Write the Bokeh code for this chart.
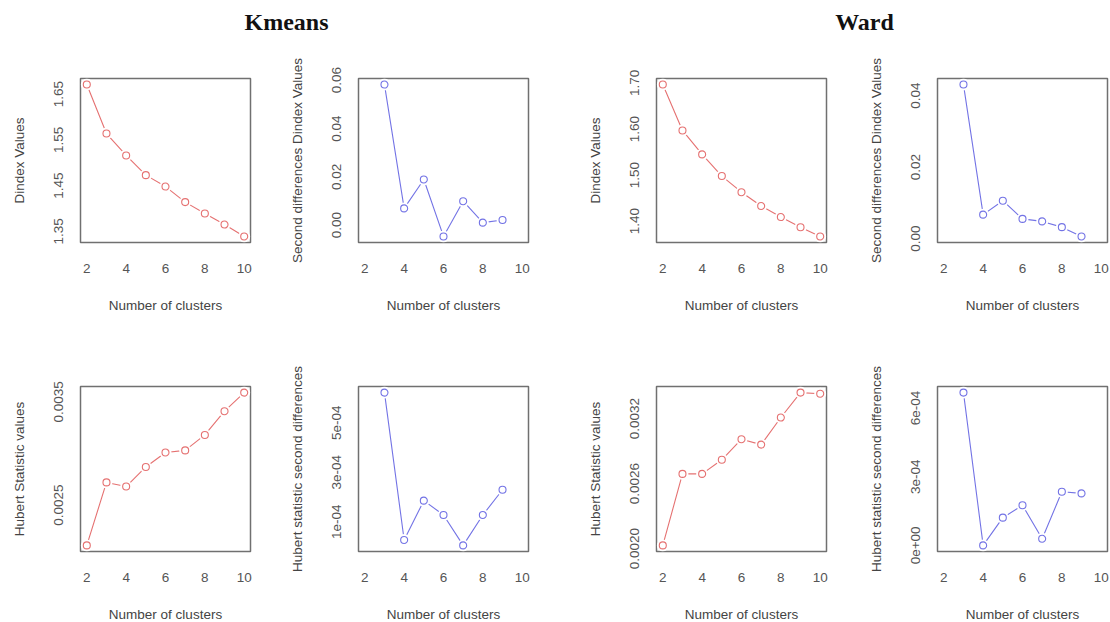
from bokeh.plotting import figure
from bokeh.layouts import column, row
from bokeh.models import Range1d, FixedTicker, CustomJSTickFormatter, Label
from bokeh.embed import file_html
from bokeh.resources import INLINE
from bokeh.core.properties import value

# ---------------- data ----------------
clusters = [2, 3, 4, 5, 6, 7, 8, 9, 10]
diff_clusters = [3, 4, 5, 6, 7, 8, 9]

kmeans_dindex = [1.671, 1.564, 1.516, 1.473, 1.448, 1.414, 1.389, 1.365, 1.339]
kmeans_dindex_diff = [0.0582, 0.0069, 0.0189, -0.0047, 0.0099, 0.0010, 0.0021]
ward_dindex = [1.6965, 1.597, 1.545, 1.498, 1.463, 1.433, 1.409, 1.387, 1.367]
ward_dindex_diff = [0.0431, 0.0067, 0.0106, 0.0055, 0.0048, 0.0032, 0.0006]

kmeans_hubert = [0.00211, 0.00272, 0.00268, 0.00287, 0.00301, 0.00303, 0.00318, 0.00341, 0.00359]
kmeans_hubert_diff = [6.22e-4, 0.26e-4, 1.85e-4, 1.27e-4, 0.04e-4, 1.27e-4, 2.29e-4]
ward_hubert = [0.00203, 0.00269, 0.00269, 0.00282, 0.00301, 0.00296, 0.00321, 0.00344, 0.00343]
ward_hubert_diff = [6.67e-4, 0.0, 1.21e-4, 1.75e-4, 0.29e-4, 2.34e-4, 2.27e-4]

x_ticks = [2, 4, 6, 8, 10]
ticks_kmeans_dindex = [1.35, 1.45, 1.55, 1.65]
ticks_kmeans_dindex_diff = [0.00, 0.02, 0.04, 0.06]
ticks_ward_dindex = [1.40, 1.50, 1.60, 1.70]
ticks_ward_dindex_diff = [0.00, 0.02, 0.04]
ticks_kmeans_hubert = [0.0025, 0.0035]
ticks_kmeans_hubert_diff = [1e-4, 3e-4, 5e-4]
ticks_ward_hubert = [0.0020, 0.0026, 0.0032]
ticks_ward_hubert_diff = [0.0, 3e-4, 6e-4]

titles = ["Kmeans", "Ward"]
x_label = "Number of clusters"

# ---------------- styling ----------------
RED = "#e05858"
BLUE = "#5a5ae0"
FONT = "Liberation Sans"
TICK_COLOR = "#555555"
LABEL_COLOR = "#444444"
FS = "13.5px"

EXP_CODE = """
const s = tick.toExponential(0);
const parts = s.split('e');
const n = parseInt(parts[1]);
const a = Math.abs(n);
return parts[0] + 'e' + (n < 0 ? '-' : '+') + (a < 10 ? '0' : '') + a;
"""


def expand(vals):
    lo, hi = min(vals), max(vals)
    d = (hi - lo) * 0.04
    return lo - d, hi + d


def panel(xs, ys, color, yticks, fmt, ylabel, left, right, frame_w, top, bottom, frame_h):
    x0, x1 = expand(clusters)
    y0, y1 = expand(ys)
    p = figure(frame_width=frame_w, frame_height=frame_h,
               x_range=Range1d(x0, x1), y_range=Range1d(y0, y1),
               output_backend="svg", toolbar_location=None,
               min_border_left=left, min_border_right=right,
               min_border_top=top, min_border_bottom=bottom)
    p.grid.visible = False
    p.outline_line_color = "#707070"
    p.outline_line_width = 1.5
    p.background_fill_color = "white"
    p.border_fill_color = "white"

    for ax in (p.xaxis[0], p.yaxis[0]):
        ax.axis_line_color = None
        ax.major_tick_line_color = None
        ax.minor_tick_line_color = None
        ax.major_tick_in = 0
        ax.major_tick_out = 0
        ax.major_label_text_font = FONT
        ax.major_label_text_font_size = FS
        ax.major_label_text_color = TICK_COLOR
        ax.axis_label_text_font = FONT
        ax.axis_label_text_font_size = FS
        ax.axis_label_text_font_style = "normal"
        ax.axis_label_text_color = LABEL_COLOR

    p.xaxis.ticker = FixedTicker(ticks=x_ticks)
    p.xaxis.major_label_standoff = 21
    p.xaxis.axis_label = x_label
    p.xaxis.axis_label_standoff = 22

    p.yaxis.ticker = FixedTicker(ticks=yticks)
    if fmt == "exp":
        p.yaxis.formatter = CustomJSTickFormatter(code=EXP_CODE)
    else:
        p.yaxis.formatter = CustomJSTickFormatter(args=dict(d=fmt), code="return tick.toFixed(d);")
    p.yaxis.major_label_orientation = "vertical"
    p.yaxis.major_label_standoff = 17
    p.yaxis.axis_label = ylabel
    p.yaxis.axis_label_standoff = 25

    p.line(xs, ys, line_color=color, line_width=1.1, line_alpha=0.85)
    p.scatter(xs, ys, size=12, marker="circle", fill_color="white", line_color=None)
    p.scatter(xs, ys, size=7, marker="circle", fill_color=None, line_color=color,
              line_width=1.1, line_alpha=0.85)
    return p


# column geometry: (left border, frame width, right border)
cols = [(80, 170, 20), (88, 170, 20), (108, 170, 20), (91, 170, 2)]
row1_geo = (30, 164, 80)
row2_geo = (64, 165, 70)

specs_row1 = [
    (clusters, kmeans_dindex, RED, ticks_kmeans_dindex, 2, "Dindex Values"),
    (diff_clusters, kmeans_dindex_diff, BLUE, ticks_kmeans_dindex_diff, 2, "Second differences Dindex Values"),
    (clusters, ward_dindex, RED, ticks_ward_dindex, 2, "Dindex Values"),
    (diff_clusters, ward_dindex_diff, BLUE, ticks_ward_dindex_diff, 2, "Second differences Dindex Values"),
]
specs_row2 = [
    (clusters, kmeans_hubert, RED, ticks_kmeans_hubert, 4, "Hubert Statistic values"),
    (diff_clusters, kmeans_hubert_diff, BLUE, ticks_kmeans_hubert_diff, "exp", "Hubert statistic second differences"),
    (clusters, ward_hubert, RED, ticks_ward_hubert, 4, "Hubert Statistic values"),
    (diff_clusters, ward_hubert_diff, BLUE, ticks_ward_hubert_diff, "exp", "Hubert statistic second differences"),
]

r1 = []
for spec, (l, w, r) in zip(specs_row1, cols):
    t, h, b = row1_geo
    r1.append(panel(*spec, l, r, w, t, b, h))
r2 = []
for spec, (l, w, r) in zip(specs_row2, cols):
    t, h, b = row2_geo
    r2.append(panel(*spec, l, r, w, t, b, h))

total_w = sum(l + w + r for l, w, r in cols)
head_h = 48
head = figure(width=total_w, height=head_h, x_range=Range1d(0, total_w), y_range=Range1d(0, head_h),
              output_backend="svg", toolbar_location=None,
              min_border=0)
head.axis.visible = False
head.grid.visible = False
head.outline_line_color = None
head.border_fill_color = "white"
head.background_fill_color = "white"
for txt, cx in zip(titles, [286, 864]):
    head.add_layout(Label(x=cx, y=head_h - 21, text=txt, text_align="center", text_baseline="middle",
                          text_font="Liberation Serif", text_font_style="bold",
                          text_font_size="24px", text_color="#111111"))

layout = column(head, row(*r1), row(*r2))

open("out.html", "w").write(file_html(layout, INLINE))
